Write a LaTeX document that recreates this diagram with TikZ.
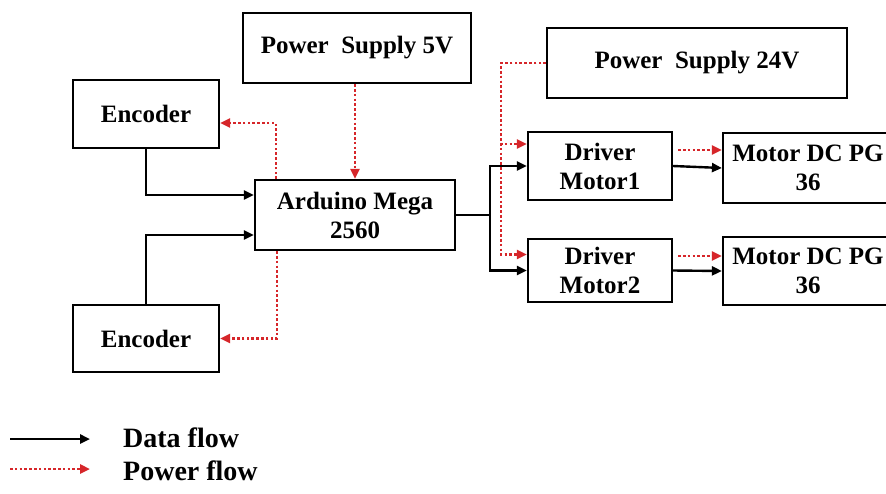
\documentclass[tikz,border=0pt]{standalone}
\usepackage{fontspec}
\setmainfont{Liberation Serif}
\usetikzlibrary{arrows.meta}

\definecolor{pwrred}{RGB}{214,38,42}

\tikzset{
  block/.style={draw, line width=2.2pt, fill=white, align=center, inner sep=0pt,
    font=\fontsize{25}{29}\selectfont\bfseries},
  legtext/.style={font=\fontsize{28}{32}\selectfont\bfseries, inner sep=0pt},
  data/.style={line width=2.4pt, -{Triangle[length=10pt,width=9pt]}},
  power/.style={pwrred, line width=2.8pt, dash pattern=on 2.6pt off 2.2pt,
    -{Triangle[length=10pt,width=9pt]}},
}

\begin{document}
\begin{tikzpicture}[x=1pt,y=-1pt]
\useasboundingbox (0,0) rectangle (886,493);

% blocks
\node[block, minimum width=228pt, minimum height=70pt] (ps5) at (357,48) {Power\ \ Supply 5V};
\node[block, minimum width=300pt, minimum height=70pt] (ps24) at (697,63) {Power\ \ Supply 24V};
\node[block, minimum width=146pt, minimum height=68pt] (enc1) at (146,114) {Encoder};
\node[block, minimum width=146pt, minimum height=67pt] (enc2) at (146,338.5) {Encoder};
\node[block, minimum width=200pt, minimum height=70pt] (mega) at (355,215) {Arduino Mega\\2560};
\node[block, minimum width=144pt, minimum height=68pt] (drv1) at (600,166) {Driver\\Motor1};
\node[block, minimum width=144pt, minimum height=63pt] (drv2) at (600,270.5) {Driver\\Motor2};
\node[block, minimum width=170pt, minimum height=70pt] (mot1) at (808,168) {Motor DC PG\\36};
\node[block, minimum width=170pt, minimum height=68pt] (mot2) at (808,271) {Motor DC PG\\36};

% data flow
\draw[data] (enc1.south) |- ([yshift=20pt]mega.west);
\draw[data] (enc2.north) |- ([yshift=-20pt]mega.west);
\coordinate (fork) at (490,215);
\draw[line width=2.4pt] (mega.east) -- (fork);
\draw[data] (fork) |- (drv1.west);
\draw[data] (fork) |- (drv2.west);
\draw[data] (drv1.east) -- (mot1.west);
\draw[data] (drv2.east) -- (mot2.west);

% power flow
\draw[power] (ps5.south -| mega.north) -- (mega.north);
\draw[power] ([xshift=22pt]mega.north west) |- ([yshift=-9pt]enc1.east);
\draw[power] ([xshift=23pt]mega.south west) |- (enc2.east);
\coordinate (pbus) at (501,63);
\draw[power] (ps24.west) -- (pbus) |- ([yshift=22pt]drv1.west);
\draw[power] (ps24.west) -- (pbus) |- ([yshift=16pt]drv2.west);
\draw[power] ([xshift=5pt,yshift=16pt]drv1.east) -- ([yshift=18pt]mot1.west);
\draw[power] ([xshift=5pt,yshift=14.5pt]drv2.east) -- ([yshift=15pt]mot2.west);

% legend
\coordinate (dstart) at (10,439);
\coordinate (dend) at (90,439);
\coordinate (pstart) at (10,469);
\coordinate (pend) at (90,469);
\draw[data] (dstart) -- (dend);
\draw[power] (pstart) -- (pend);
\node[legtext, anchor=base west] (datalab) at (123,447) {Data flow};
\node[legtext, anchor=base west] (powerlab) at (123,480) {Power flow};
\end{tikzpicture}
\end{document}
